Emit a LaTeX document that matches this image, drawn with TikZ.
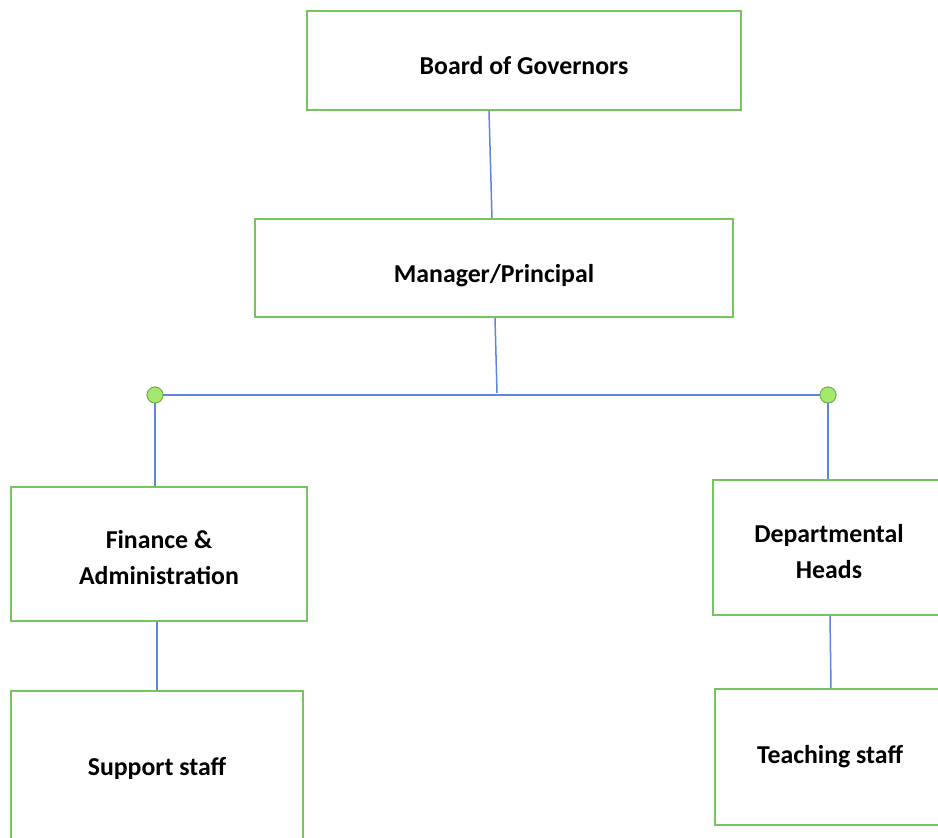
\documentclass[tikz,border=0pt]{standalone}
\usepackage{fontspec}
\setmainfont{Carlito}
\usetikzlibrary{calc}
\definecolor{boxgreen}{RGB}{118,196,96}
\definecolor{lineblue}{RGB}{92,134,222}
\definecolor{dotfill}{RGB}{164,232,108}
\definecolor{dotdraw}{RGB}{110,170,80}
\newcommand\bxtext[2][-7pt]{\raisebox{#1}[\height][\depth]{\begin{tabular}{@{}c@{}}#2\end{tabular}}}
\begin{document}
\begin{tikzpicture}[x=1pt,y=-1pt,
  box/.style={draw=boxgreen,line width=1.6pt,rectangle,align=center,inner sep=0pt,
    font=\fontsize{25.8}{36}\selectfont\bfseries},
  link/.style={draw=lineblue,line width=1.5pt},
  dot/.style={circle,draw=dotdraw,fill=dotfill,line width=0.8pt,minimum size=16pt,inner sep=0pt}]
\useasboundingbox (0,0) rectangle (938,838);
\clip (0,0) rectangle (938,838);
\node[box,minimum width=434pt,minimum height=99pt] (board) at (524,60.5) {\bxtext{Board of Governors}};
\node[box,minimum width=478pt,minimum height=98pt] (mgr) at (494,268) {\bxtext{Manager/Principal}};
\node[box,minimum width=296pt,minimum height=134pt] (fin) at (159,554) {\bxtext[-5.5pt]{Finance \&\\Administration}};
\node[box,minimum width=292pt,minimum height=152pt] (sup) at (157,767) {\bxtext[-1pt]{Support staff}};
\node[box,minimum width=232pt,minimum height=135pt] (dep) at (829,547.5) {\bxtext[-6pt]{Departmental\\Heads}};
\node[box,minimum width=230pt,minimum height=136pt] (tea) at (830,757) {\bxtext[1pt]{Teaching staff}};
\coordinate (bus) at (497,393);
\draw[link] ($(board.south)+(-35,0)$) -- ($(mgr.north)+(-2,0)$);
\draw[link] ($(mgr.south)+(1,0)$) -- (bus);
\node[dot] (dl) at (155,395) {};
\node[dot] (dr) at (828,395) {};
\draw[link] (dl) -- (dr);
\draw[link] (dl) -- (dl |- fin.north);
\draw[link] (dr) -- (dr |- dep.north);
\draw[link] ($(fin.south)+(-2,0)$) -- ($(sup.north)+(0,0)$);
\draw[link] ($(dep.south)+(1,0)$) -- ($(tea.north)+(1,0)$);
\node[dot] at (dl) {};
\node[dot] at (dr) {};
\end{tikzpicture}
\end{document}
